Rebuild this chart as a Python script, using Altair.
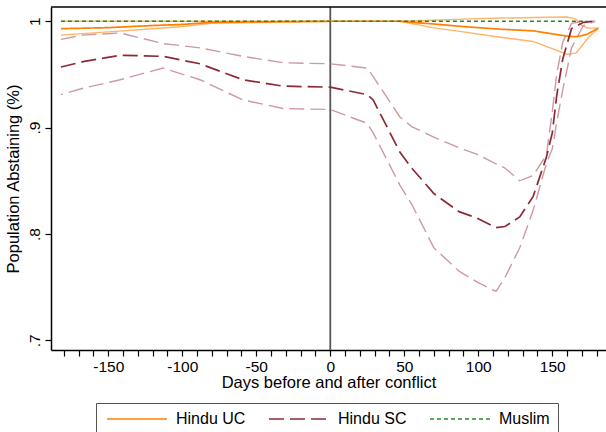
import altair as alt
import pandas as pd

# ---- data ----
sc_days = [-182, -167, -142, -113, -88, -59, -32, 0, 25, 29, 47, 55, 70, 87, 99, 112, 118, 128, 137, 146, 150, 153, 157, 163, 171, 179]
sc_mid = [0.957, 0.962, 0.968, 0.967, 0.960, 0.945, 0.939, 0.938, 0.931, 0.926, 0.877, 0.862, 0.838, 0.821, 0.815, 0.806, 0.807, 0.816, 0.835, 0.872, 0.895, 0.930, 0.964, 0.993, 0.999, 1.000]
sc_hi = [0.983, 0.987, 0.989, 0.979, 0.975, 0.967, 0.961, 0.960, 0.956, 0.948, 0.910, 0.901, 0.891, 0.881, 0.875, 0.866, 0.862, 0.850, 0.855, 0.874, 0.915, 0.950, 0.980, 0.998, 1.000, 1.000]
sc_lo = [0.931, 0.937, 0.945, 0.956, 0.945, 0.926, 0.918, 0.917, 0.904, 0.895, 0.846, 0.828, 0.787, 0.765, 0.755, 0.746, 0.759, 0.787, 0.822, 0.866, 0.880, 0.905, 0.935, 0.975, 0.996, 1.000]

uc_days = [-182, -150, -120, -100, -80, 0, 47, 69, 90, 115, 137, 160, 166, 170, 174, 181]
uc_mid = [0.993, 0.994, 0.996, 0.997, 0.999, 1.0, 1.0, 0.9975, 0.995, 0.9925, 0.991, 0.986, 0.9855, 0.9865, 0.988, 0.9935]
uc_hi = [1.0, 1.0, 1.0, 1.0, 1.0, 1.0, 1.0, 1.001, 1.002, 1.003, 1.0035, 1.004, 1.002, 0.996, 0.9935, 0.9935]
uc_lo = [0.987, 0.990, 0.993, 0.995, 0.998, 1.0, 1.0, 0.994, 0.990, 0.985, 0.981, 0.969, 0.970, 0.977, 0.984, 0.9935]

mu_days = [-182, -100, 0, 100, 172]
mu_mid = [1.0, 1.0, 1.0, 1.0, 1.0]

series_names = ["Hindu UC", "Hindu SC", "Muslim"]
x_ticks = list(range(-180, 181, 10))
y_ticks = [0.7, 0.8, 0.9, 1.0]
event_day = [0]

# ---- tables ----
def ci_path(days, hi, lo, name):
    rows = []
    n = len(days)
    for i in range(n):
        rows.append({"day": days[i], "val": hi[i], "ord": i, "grp": name})
    for j, i in enumerate(reversed(range(n))):
        rows.append({"day": days[i], "val": lo[i], "ord": n + j, "grp": name})
    return pd.DataFrame(rows)

uc_ci = ci_path(uc_days, uc_hi, uc_lo, "UC")
sc_ci = ci_path(sc_days, sc_hi, sc_lo, "SC")

mid = pd.concat([
    pd.DataFrame({"day": uc_days, "val": uc_mid, "series": series_names[0]}),
    pd.DataFrame({"day": sc_days, "val": sc_mid, "series": series_names[1]}),
    pd.DataFrame({"day": mu_days, "val": mu_mid, "series": series_names[2]}),
], ignore_index=True)

FONT = "Liberation Sans"
x_scale = alt.Scale(domain=[-188.7, 186.3], nice=False, zero=False)
y_scale = alt.Scale(domain=[0.6909, 1.0134], nice=False, zero=False)

x_axis = alt.Axis(
    title="Days before and after conflict", values=x_ticks,
    labelExpr="datum.value % 50 == 0 ? toString(datum.value) : ''",
    labelOverlap=False, labelFlush=False, grid=False,
    tickSize=6, tickWidth=1.2, tickColor="black",
    domainColor="black", domainWidth=1.5,
    labelFont=FONT, labelFontSize=15.5, labelColor="black", labelPadding=3,
    titleFont=FONT, titleFontSize=16.5, titleFontWeight="normal", titleColor="black", titlePadding=0,
)
y_axis = alt.Axis(
    title="Population Abstaining (%)", values=y_ticks,
    labelExpr="datum.value == 1 ? '1' : replace(format(datum.value, '.1f'), '0.', '.')",
    labelAngle=270, grid=False, labelOverlap=False, labelFlush=False,
    tickSize=6, tickWidth=1.2, tickColor="black",
    domainColor="black", domainWidth=1.5,
    labelFont=FONT, labelFontSize=15.5, labelColor="black", labelPadding=3,
    titleFont=FONT, titleFontSize=16.5, titleFontWeight="normal", titleColor="black", titlePadding=6,
)

X = alt.X("day:Q", scale=x_scale, axis=x_axis)
Y = alt.Y("val:Q", scale=y_scale, axis=y_axis)

uc_ci_layer = alt.Chart(uc_ci).mark_line(strokeWidth=1.4, color="#ffb36b").encode(
    x=X, y=Y, order="ord:Q"
)
sc_ci_layer = alt.Chart(sc_ci).mark_line(strokeWidth=1.4, color="#cc9aa0", strokeDash=[15, 6]).encode(
    x=X, y=Y, order="ord:Q"
)

legend_props = dict(orient="none", legendX=45, legendY=396, direction="horizontal",
                    columns=3, columnPadding=19, symbolType="M-6,0H6", symbolSize=100,
                    symbolOffset=25, symbolStrokeWidth=1.8, symbolOpacity=0.75,
                    labelFont=FONT, labelFontSize=16, labelColor="black", labelOffset=31,
                    padding=8, strokeColor="#555555", fillColor="white")

mid_layer = alt.Chart(mid).mark_line(strokeWidth=1.7).encode(
    x=X, y=Y,
    color=alt.Color("series:N", scale=alt.Scale(domain=series_names, range=["#ff7f00", "#8c2a36", "#228b22"]),
                    title=None, legend=alt.Legend(**legend_props)),
    strokeDash=alt.StrokeDash("series:N", scale=alt.Scale(domain=series_names, range=[[1, 0], [15, 6], [4, 3]]),
                              title=None, legend=alt.Legend(**legend_props)),
)

vline = alt.Chart(pd.DataFrame({"day": event_day})).mark_rule(color="#555555", strokeWidth=1.8).encode(
    x=X
)
top = alt.Chart(pd.DataFrame({"day": event_day})).mark_rule(color="black", strokeWidth=1.5).encode(
    x=alt.value(0), x2=alt.value(555), y=alt.value(0)
)

chart = alt.layer(vline, uc_ci_layer, sc_ci_layer, mid_layer, top).properties(
    width=555, height=343,
    padding={"left": 51, "top": 7, "right": 0, "bottom": 82},
    autosize=alt.AutoSizeParams(type="none"),
    background="white",
).configure_view(stroke=None)

chart.save("out.html", embed_options={"renderer": "svg", "actions": False})
